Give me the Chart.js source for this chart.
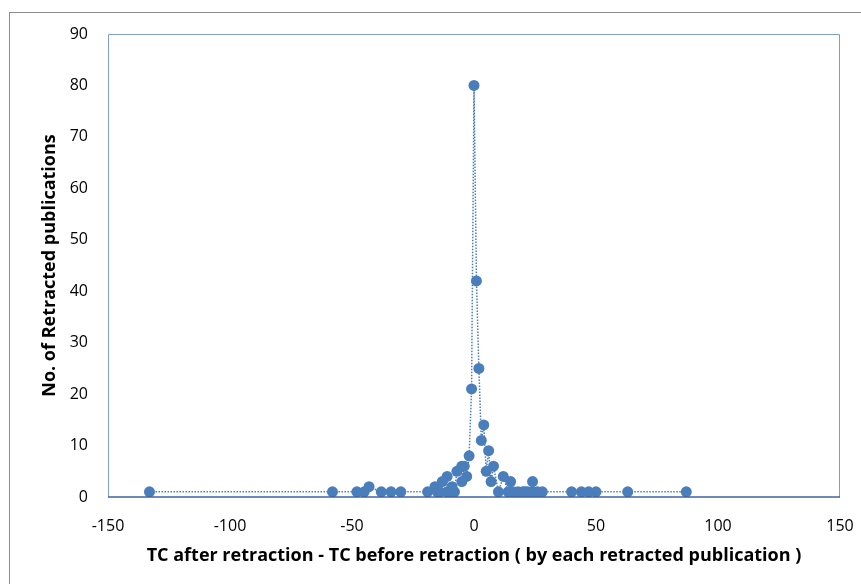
<!DOCTYPE html>
<html>
<head>
<meta charset="utf-8">
<script src="https://cdn.jsdelivr.net/npm/chart.js@4.4.1/dist/chart.umd.min.js"></script>
<style>
    html, body { margin: 0; padding: 0; background: #fff; overflow: hidden; }
    #wrap { width: 861px; height: 584px; }
</style>
</head>
<body>
<div id="wrap"><canvas id="tcChart" width="861" height="584"></canvas></div>
<script>
// difference in TC (after - before retraction) and number of retracted publications
const tcDiff = [-133, -58, -48, -45, -43, -38, -34, -30, -19, -16, -15, -14, -13, -11, -11,
    -9, -9, -8, -7, -5, -5, -4, -3, -2, -1, 0, 1, 2, 3, 4, 5, 6, 7, 8,
    10, 12, 14, 15, 16, 18, 20, 21, 22, 24, 24, 26, 28, 40, 44, 47, 50, 63, 87];
const pubCount = [1, 1, 1, 1, 2, 1, 1, 1, 1, 2, 1, 1, 3, 4, 1,
    2, 1, 1, 5, 6, 3, 6, 4, 8, 21, 80, 42, 25, 11, 14, 5, 9, 3, 6,
    1, 4, 1, 3, 1, 1, 1, 1, 1, 1, 3, 1, 1, 1, 1, 1, 1, 1, 1];
const xTicks = [-150, -100, -50, 0, 50, 100, 150];
const yTicks = [0, 10, 20, 30, 40, 50, 60, 70, 80, 90];

const points = tcDiff.map((x, i) => ({ x: x, y: pubCount[i] }));

// outer chart frame + plot area frame
const frames = {
    id: 'frames',
    beforeDraw(chart) {
        const c = chart.ctx;
        c.save();
        c.fillStyle = '#fff';
        c.fillRect(0, 0, chart.width, chart.height);
        c.strokeStyle = '#8c8c8c';
        c.lineWidth = 1;
        c.strokeRect(9.5, 12.5, 1000, 1000);
        c.restore();
    },
    afterDatasetsDraw(chart) {
        const a = chart.chartArea;
        const c = chart.ctx;
        c.save();
        c.strokeStyle = '#7f9fd3';
        c.lineWidth = 1;
        c.beginPath();
        c.moveTo(a.left + 0.5, a.bottom);
        c.lineTo(a.left + 0.5, a.top + 0.5);
        c.lineTo(a.right - 0.5, a.top + 0.5);
        c.lineTo(a.right - 0.5, a.bottom);
        c.stroke();
        c.strokeStyle = '#3f62a0';
        c.lineWidth = 1.5;
        c.beginPath();
        c.moveTo(a.left, a.bottom);
        c.lineTo(a.right, a.bottom);
        c.stroke();
        c.restore();
    }
};

const ctx = document.getElementById('tcChart').getContext('2d');
const chart = new Chart(ctx, {
    type: 'scatter',
    data: {
        datasets: [{
            data: points,
            showLine: true,
            borderColor: '#4a7ebb',
            borderWidth: 1.5,
            borderDash: [1.5, 1.5],
            backgroundColor: '#4a7ebb',
            pointBackgroundColor: '#4a7ebb',
            pointBorderColor: '#4a7ebb',
            pointRadius: 5.5,
            pointBorderWidth: 0
        }]
    },
    options: {
        responsive: false,
        animation: false,
        layout: { padding: { left: 0, top: 34, right: 21, bottom: 0 } },
        plugins: { legend: { display: false }, tooltip: { enabled: false } },
        scales: {
            x: {
                type: 'linear',
                min: -150,
                max: 150,
                afterBuildTicks: (s) => { s.ticks = xTicks.map(v => ({ value: v })); },
                afterFit: (s) => { s.height = 87; s.paddingLeft = 0; s.paddingRight = 0; },
                grid: { display: false },
                border: { display: false },
                ticks: { color: '#000', padding: 12, font: { family: 'Open Sans', size: 16 } },
                title: {
                    display: true,
                    text: 'TC after retraction - TC before retraction ( by each retracted publication )',
                    color: '#000',
                    font: { family: 'Open Sans', size: 18, weight: 'bold' },
                    padding: { top: 0, bottom: 17 }
                }
            },
            y: {
                min: 0,
                max: 90,
                afterBuildTicks: (s) => { s.ticks = yTicks.map(v => ({ value: v })); },
                afterFit: (s) => { s.width = 108; s.paddingTop = 0; s.paddingBottom = 0; },
                grid: { display: false },
                border: { display: false },
                ticks: { color: '#000', padding: 12, font: { family: 'Open Sans', size: 16 } },
                title: {
                    display: true,
                    text: 'No. of Retracted publications',
                    color: '#000',
                    font: { family: 'Open Sans', size: 18, weight: 'bold' },
                    padding: { top: 39, bottom: 0 }
                }
            }
        }
    },
    plugins: [frames]
});
</script>
</body>
</html>
